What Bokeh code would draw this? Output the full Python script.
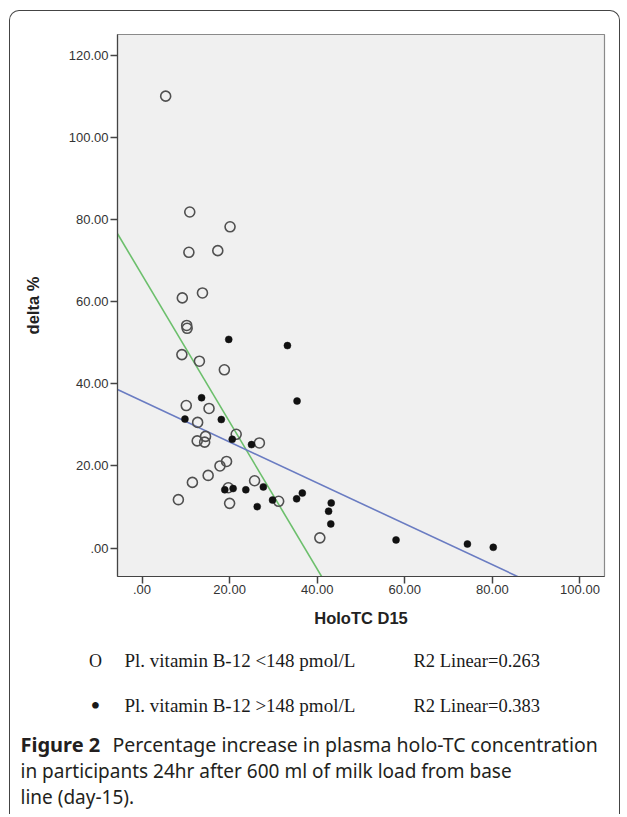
from bokeh.plotting import figure
from bokeh.models import FixedTicker, Range1d
from bokeh.embed import file_html
from bokeh.resources import INLINE
from bokeh.core.properties import value

# ---- data ----
# Pl. vitamin B-12 <148 pmol/L (open circles)
low_x = [5.4, 10.9, 20.1, 10.7, 17.3, 9.2, 13.8, 10.2, 10.3, 9.1, 13.1, 18.8, 10.1, 15.3, 12.7,
         14.5, 12.6, 14.3, 21.5, 26.8, 17.8, 19.3, 11.5, 15.1, 8.3, 19.7, 20.0, 25.7, 31.2, 40.6]
low_y = [110.0, 81.8, 78.2, 72.0, 72.4, 60.9, 62.1, 54.2, 53.5, 47.1, 45.5, 43.4, 34.7, 34.0, 30.6,
         27.2, 26.1, 25.8, 27.7, 25.6, 20.0, 21.1, 16.0, 17.7, 11.8, 14.7, 10.9, 16.4, 11.4, 2.5]
# Pl. vitamin B-12 >148 pmol/L (filled dots)
high_x = [19.8, 33.2, 35.4, 13.6, 9.8, 18.1, 20.6, 25.0, 18.9, 20.8, 23.7, 27.7, 26.3, 29.8, 35.3,
          36.6, 43.2, 42.6, 43.1, 58.0, 74.3, 80.2]
high_y = [50.8, 49.3, 35.8, 36.6, 31.4, 31.3, 26.5, 25.2, 14.2, 14.5, 14.2, 14.9, 10.1, 11.7, 12.0,
          13.4, 11.0, 9.0, 5.9, 2.0, 1.0, 0.2]

# linear fit lines (intercept, slope)
low_fit = (66.5, -1.79)     # green
high_fit = (35.8, -0.498)   # blue

x_ticks = [0, 20, 40, 60, 80, 100]
x_tick_labels = [".00", "20.00", "40.00", "60.00", "80.00", "100.00"]
y_ticks = [0, 20, 40, 60, 80, 100, 120]
y_tick_labels = [".00", "20.00", "40.00", "60.00", "80.00", "100.00", "120.00"]

legend_symbols = ["O", "\u2022"]
legend_names = ["Pl. vitamin B-12 <148 pmol/L", "Pl. vitamin B-12 >148 pmol/L"]
legend_r2 = ["R2 Linear=0.263", "R2 Linear=0.383"]
caption_bold = "Figure 2"
caption_lines = [
    "Percentage increase in plasma holo-TC concentration",
    "in participants 24hr after 600 ml of milk load from base",
    "line (day-15).",
]

# ---- layout geometry (page pixels) ----
LEFT, TOP = 10, 11          # content origin inside the outer border
W = 611
P1_H = 629
P2_H = 175

X0, X1 = -5.6, 105.6
Y0, Y1 = -6.9, 125.0

p = figure(width=W, height=P1_H, output_backend="svg", toolbar_location=None,
           x_range=Range1d(X0, X1), y_range=Range1d(Y0, Y1),
           min_border_left=107, min_border_top=23, min_border_right=17, min_border_bottom=64)
p.styles = {"margin-left": "9px", "margin-top": "10px",
            "border-top": "1px solid #444", "border-left": "1px solid #444",
            "border-right": "1px solid #444",
            "border-top-left-radius": "10px", "border-top-right-radius": "10px"}
p.border_fill_color = None
p.background_fill_color = "#f0f0f0"
p.outline_line_color = "#8a8a8a"
p.outline_line_width = 1.2
p.grid.visible = False

for ax in (p.xaxis[0], p.yaxis[0]):
    ax.axis_line_color = "#444"
    ax.axis_line_width = 1.2
    ax.major_tick_line_color = "#444"
    ax.major_tick_line_width = 1.5
    ax.major_tick_out = 7
    ax.major_tick_in = 0
    ax.minor_tick_line_color = None
    ax.major_label_text_font = "Liberation Sans"
    ax.major_label_text_font_size = "13px"
    ax.major_label_text_color = "#333"
    ax.axis_label_text_font = "Liberation Sans"
    ax.axis_label_text_font_style = "bold"
    ax.axis_label_text_font_size = "16.5px"
    ax.axis_label_text_color = "#222"

p.xaxis.ticker = FixedTicker(ticks=x_ticks)
p.xaxis.major_label_overrides = dict(zip(x_ticks, x_tick_labels))
p.yaxis.ticker = FixedTicker(ticks=y_ticks)
p.yaxis.major_label_overrides = dict(zip(y_ticks, y_tick_labels))
p.xaxis.axis_label = "HoloTC D15"
p.yaxis.axis_label = "delta %"
p.xaxis.major_label_standoff = 1
p.yaxis.major_label_standoff = 2
p.xaxis.axis_label_standoff = 12
p.yaxis.axis_label_standoff = 24

# fit lines
for (b0, b1), col in ((low_fit, "#6cbf6c"), (high_fit, "#6a7cc2")):
    xs = [X0, X1]
    ys = [b0 + b1 * x for x in xs]
    p.line(xs, ys, line_color=col, line_width=1.6)

# points
p.scatter(low_x, low_y, marker="circle", size=10, fill_color=None,
          line_color="#505050", line_width=1.6)
p.scatter(high_x, high_y, marker="circle", size=7, fill_color="#111",
          line_color="#111", line_width=0.5)

# ---- legend + caption panel (separate root): coordinates are page pixels ----
y_top = TOP + P1_H
p2 = figure(width=W, height=P2_H, output_backend="svg", toolbar_location=None,
            x_range=Range1d(LEFT, LEFT + W), y_range=Range1d(y_top + P2_H, y_top),
            x_axis_type=None, y_axis_type=None, min_border=0)
p2.styles = {"margin-left": "9px", "border-left": "1px solid #444",
             "border-right": "1px solid #444"}
p2.grid.visible = False
p2.outline_line_color = None
p2.border_fill_color = None
p2.background_fill_color = None

row_y = [661, 706]
for sym, name, r2, yy in zip(legend_symbols, legend_names, legend_r2, row_y):
    p2.text([95], [yy], text=[sym], text_font=value("Liberation Serif"),
            text_font_size="18px" if sym == "O" else "28px", text_align="center",
            text_baseline="middle", text_color="#1a1a1a")
    p2.text([124], [yy], text=[name], text_font=value("Liberation Serif"),
            text_font_size="19px", text_baseline="middle", text_color="#1a1a1a")
    p2.text([413], [yy], text=[r2], text_font=value("Liberation Serif"),
            text_font_size="18.5px", text_baseline="middle", text_color="#1a1a1a")

cap_y = [745, 771, 797]
p2.text([20], [cap_y[0]], text=[caption_bold], text_font=value("Noto Sans"),
        text_font_size="20px", text_font_style="bold", text_baseline="middle",
        text_color="#231f20")
p2.text([112], [cap_y[0]], text=[caption_lines[0]], text_font=value("Noto Sans"),
        text_font_size="19.5px", text_baseline="middle", text_color="#231f20")
p2.text([20, 20], cap_y[1:], text=caption_lines[1:], text_font=value("Noto Sans"),
        text_font_size="19px", text_baseline="middle", text_color="#231f20")

open("out.html", "w").write(file_html([p, p2], INLINE))
